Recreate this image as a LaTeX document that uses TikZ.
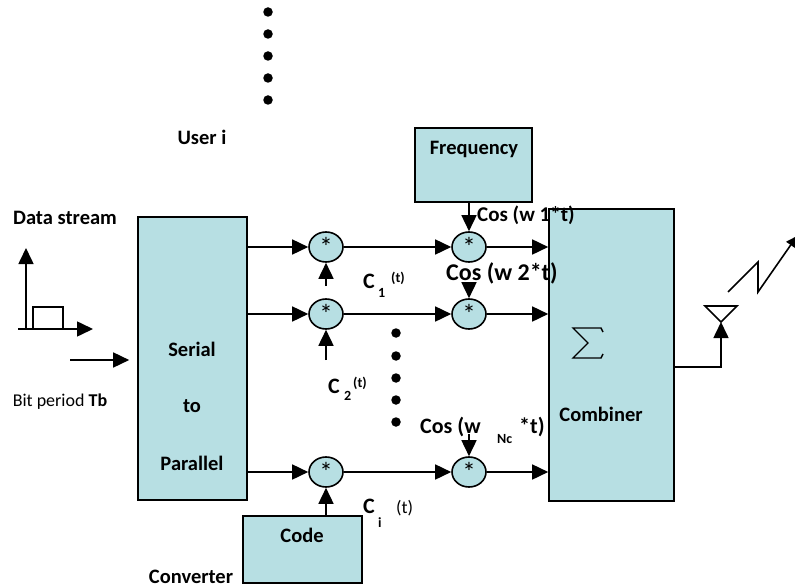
\documentclass[tikz,border=0pt]{standalone}
\usepackage{fontspec}
\setmainfont{Carlito}
\usetikzlibrary{shapes.geometric,arrows.meta}
\definecolor{boxfill}{RGB}{183,223,227}
\begin{document}
\begin{tikzpicture}[x=1pt,y=-1pt,
  blk/.style={draw=black,line width=1.6pt,fill=boxfill,inner sep=0pt},
  mult/.style={ellipse,draw=black,line width=1.6pt,fill=boxfill,minimum width=34pt,minimum height=30pt,inner sep=0pt,font=\fontsize{27}{27}\selectfont},
  lbl/.style={font=\fontsize{20.5}{24}\selectfont\bfseries,inner sep=0pt,anchor=base},
  lblw/.style={lbl,anchor=base west},
  big/.style={font=\fontsize{22}{24}\selectfont\bfseries,inner sep=0pt,anchor=base west},
  small/.style={font=\fontsize{14}{16}\selectfont\bfseries,inner sep=0pt,anchor=base west},
  arr/.style={line width=1.6pt,-{Triangle[length=16pt,width=15pt]}},
  ln/.style={line width=1.6pt},
  bigdot/.style={circle,fill=black,minimum size=9.5pt,inner sep=0pt}]
\useasboundingbox (0,0) rectangle (795,588);

% dots
\foreach \y [count=\i] in {12,34,56,78,100} \node[bigdot] (ta\i) at (268,\y) {};
\foreach \y [count=\i] in {333,356,378,400,422} \node[bigdot] (mb\i) at (396,\y) {};

% boxes
\node[blk,minimum width=109pt,minimum height=283pt] (sp) at (192.5,358.5) {};
\node[blk,minimum width=117pt,minimum height=74pt] (freq) at (473.5,165) {};
\node[blk,minimum width=125pt,minimum height=292pt] (comb) at (611.5,355) {};
\node[blk,minimum width=119pt,minimum height=67pt] (code) at (302.5,549.5) {};

% multipliers
\node[mult] (m11) at (326,247) {\raisebox{-11pt}{*}};
\node[mult] (m12) at (469,247) {\raisebox{-11pt}{*}};
\node[mult] (m21) at (326,314) {\raisebox{-11pt}{*}};
\node[mult] (m22) at (469,314) {\raisebox{-11pt}{*}};
\node[mult] (m31) at (326,472) {\raisebox{-11pt}{*}};
\node[mult] (m32) at (469,472) {\raisebox{-11pt}{*}};

% data stream plot
\coordinate (o) at (26,329);
\coordinate (xs) at (18,329);
\coordinate (xe) at (93,329);
\coordinate (ye) at (26,248);
\draw[arr] (xs) -- (xe);
\draw[arr] (o) -- (ye);
\draw[ln] (33,329) -- (33,307) -- (63,307) -- (63,329);

% input
\coordinate (in) at (70,360);
\draw[arr] (in) -- ([xshift=-8pt]sp.west |- in);

% rows
\draw[arr] (sp.east |- m11) -- (m11);
\draw[arr] (m11) -- (m12);
\draw[arr] (m12) -- (m12 -| comb.west);
\draw[arr] (sp.east |- m21) -- (m21);
\draw[arr] (m21) -- (m22);
\draw[arr] (m22) -- (m22 -| comb.west);
\draw[arr] (sp.east |- m31) -- (m31);
\draw[arr] (m31) -- (m32);
\draw[arr] (m32) -- (m32 -| comb.west);

% code inputs
\coordinate (c11) at (326,286);
\coordinate (c21) at (326,360);
\draw[arr] (c11) -- (m11);
\draw[arr] (c21) -- (m21);
\draw[arr] (code.north -| m31) -- (m31);

% carriers
\coordinate (c22) at (469,282);
\coordinate (c32) at (469,434);
\draw[arr] (freq.south -| m12) -- (m12);
\draw[arr] (c22) -- (m22);
\draw[arr] (c32) -- (m32);

% sigma
\draw[line width=1.4pt] (603,332) -- (601,328) -- (573,328) -- (588,343) -- (573,358) -- (601,358) -- (603,354);

% antenna
\coordinate (ant) at (721,322);
\draw[arr] ([yshift=-12pt]comb.east) -| (ant);
\draw[ln] (705,306) -- (737,306) -- (ant) -- cycle;
\draw[line width=1.6pt,-{Triangle[length=11pt,width=11pt]}] (728,292) -- (758,262) -- (758,292) -- (797,236);

% texts
\node[lbl] (tds) at (65,225) {Data stream};
\node[lbl] (tus) at (202,145) {User i};
\node[lbl] (tfr) at (474,155) {Frequency};
\node[lbl] (tse) at (192,356) {Serial};
\node[lbl] (tto) at (192,412) {to};
\node[lbl] (tpa) at (192,470) {Parallel};
\node[font=\fontsize{18}{20}\selectfont,inner sep=0pt,anchor=base] (tbp) at (60,406) {Bit period \textbf{Tb}};
\node[lbl] (tco) at (601,421) {Combiner};
\node[lbl] (tcd) at (302,542) {Code};
\node[lbl] (tcv) at (191,583) {Converter};

\node[lblw,font=\fontsize{21}{24}\selectfont\bfseries] (cos1) at (477,222) {Cos (w 1*t)};
\node[lblw,font=\fontsize{24}{26}\selectfont\bfseries] (cos2) at (446,280) {Cos (w 2*t)};
\node[lblw,font=\fontsize{22}{24}\selectfont\bfseries] (cos3) at (420,433) {Cos (w};
\node[small] (cos3n) at (497,443) {Nc};
\node[lblw,font=\fontsize{22}{24}\selectfont\bfseries] (cos3t) at (519,433) {*t)};

\node[big] (ca) at (363,288) {C};
\node[small] (ca1) at (378,297) {1};
\node[small] (ca2) at (391,282) {(t)};
\node[big] (cb) at (328,393) {C};
\node[small] (cb1) at (344,400) {2};
\node[small] (cb2) at (353,387) {(t)};
\node[big] (cc) at (363,513) {C};
\node[small] (cc1) at (378,527) {i};
\node[font=\fontsize{18}{20}\selectfont,inner sep=0pt,anchor=base west] (cc2) at (396,513) {(t)};
\end{tikzpicture}
\end{document}
